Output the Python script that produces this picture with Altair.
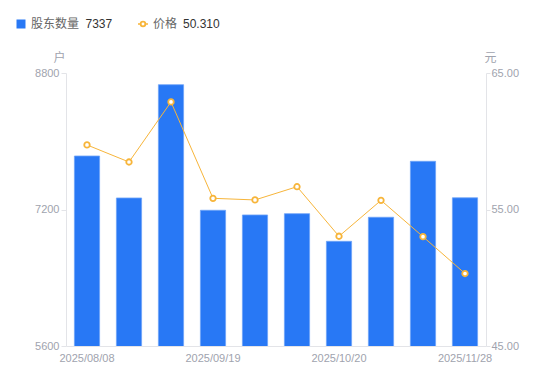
import altair as alt
import pandas as pd

dates = ["2025/08/08", "2025/08/22", "2025/08/29", "2025/09/19", "2025/09/30",
         "2025/10/10", "2025/10/20", "2025/10/31", "2025/11/14", "2025/11/28"]
holders = [7827, 7335, 8663, 7191, 7136, 7151, 6827, 7109, 7765, 7337]
price = [59.73, 58.48, 62.88, 55.82, 55.70, 56.67, 53.04, 55.67, 53.01, 50.31]
shown_dates = [dates[0], dates[3], dates[6], dates[9]]

df = pd.DataFrame({"date": dates, "holders": holders, "price": price})

FONT = "Liberation Sans, Noto Sans CJK SC"
BLUE = "#2878F5"
ORANGE = "#F7B53A"
AXIS_LABEL = "#A0A3AE"
AXIS_LINE = "#E3E4E8"

x = alt.X("date:N", sort=dates, title=None,
          scale=alt.Scale(paddingInner=0.4, paddingOuter=0.2),
          axis=alt.Axis(values=shown_dates, labelAngle=0, labelOverlap=False,
                        ticks=False, domainColor=AXIS_LINE, labelColor=AXIS_LABEL,
                        labelFontSize=11, labelPadding=6, labelFont=FONT))

bars = alt.Chart(df).mark_bar(color=BLUE, stroke="#6FA3F8", strokeWidth=0.8, clip=True).encode(
    x=x,
    y=alt.Y("holders:Q", scale=alt.Scale(domain=[5600, 8800], nice=False, zero=False),
            axis=alt.Axis(orient="left", values=[5600, 7200, 8800], format="d", grid=False,
                          domainColor=AXIS_LINE, tickColor=AXIS_LINE, tickSize=5,
                          labelColor=AXIS_LABEL, labelFontSize=11, labelPadding=2,
                          labelFont=FONT,
                          title="户", titleAngle=0, titleX=-7, titleY=-16,
                          titleAlign="center", titleBaseline="middle",
                          titleColor=AXIS_LABEL, titleFontSize=12,
                          titleFontWeight="normal", titleFont=FONT)),
)

line = alt.Chart(df).mark_line(
    color=ORANGE, strokeWidth=1,
    point=alt.OverlayMarkDef(shape="circle", filled=True, fill="white",
                             stroke=ORANGE, strokeWidth=1.8, size=30, opacity=1),
).encode(
    x=x,
    y=alt.Y("price:Q", scale=alt.Scale(domain=[45, 65], nice=False, zero=False),
            axis=alt.Axis(orient="right", values=[45, 55, 65], format=".2f", grid=False,
                          domainColor=AXIS_LINE, tickColor=AXIS_LINE, tickSize=4,
                          labelColor=AXIS_LABEL, labelFontSize=11, labelPadding=1,
                          labelFont=FONT,
                          title="元", titleAngle=0, titleX=4, titleY=-16,
                          titleAlign="center", titleBaseline="middle",
                          titleColor=AXIS_LABEL, titleFontSize=12,
                          titleFontWeight="normal", titleFont=FONT)),
)

# legend
leg = pd.DataFrame({"a": [0]})
legend_sq = alt.Chart(leg).mark_square(color=BLUE, size=81, opacity=1).encode(
    x=alt.value(-45), y=alt.value(-49))
legend_t1 = alt.Chart(leg).mark_text(align="left", baseline="middle", font=FONT,
                                     fontSize=12, color="#666666", text="股东数量").encode(
    x=alt.value(-35), y=alt.value(-49))
legend_v1 = alt.Chart(leg).mark_text(align="left", baseline="middle", font=FONT,
                                     fontSize=12, color="#333333",
                                     text=f"{holders[-1]}").encode(
    x=alt.value(19.5), y=alt.value(-49))
legend_ln = alt.Chart(leg).mark_rule(color=ORANGE, strokeWidth=1.5).encode(
    x=alt.value(72), x2=alt.value(82), y=alt.value(-49))
legend_pt = alt.Chart(leg).mark_point(shape="circle", filled=True, fill="white",
                                      stroke=ORANGE, strokeWidth=1.8, size=22, opacity=1).encode(
    x=alt.value(77), y=alt.value(-49))
legend_t2 = alt.Chart(leg).mark_text(align="left", baseline="middle", font=FONT,
                                     fontSize=12, color="#666666", text="价格").encode(
    x=alt.value(87), y=alt.value(-49))
legend_v2 = alt.Chart(leg).mark_text(align="left", baseline="middle", font=FONT,
                                     fontSize=12, color="#333333",
                                     text=f"{price[-1]:.3f}").encode(
    x=alt.value(117), y=alt.value(-49))

chart = alt.layer(
    bars, line,
    legend_sq, legend_t1, legend_v1, legend_ln, legend_pt, legend_t2, legend_v2
).resolve_scale(y="independent").properties(
    width=420, height=273,
    padding={"left": 58, "top": 65, "right": 50, "bottom": 20},
    autosize=alt.AutoSizeParams(type="none"),
).configure(background="white", view=alt.ViewConfig(strokeWidth=0))

chart.save("out.html", embed_options={"renderer": "svg", "actions": False})
